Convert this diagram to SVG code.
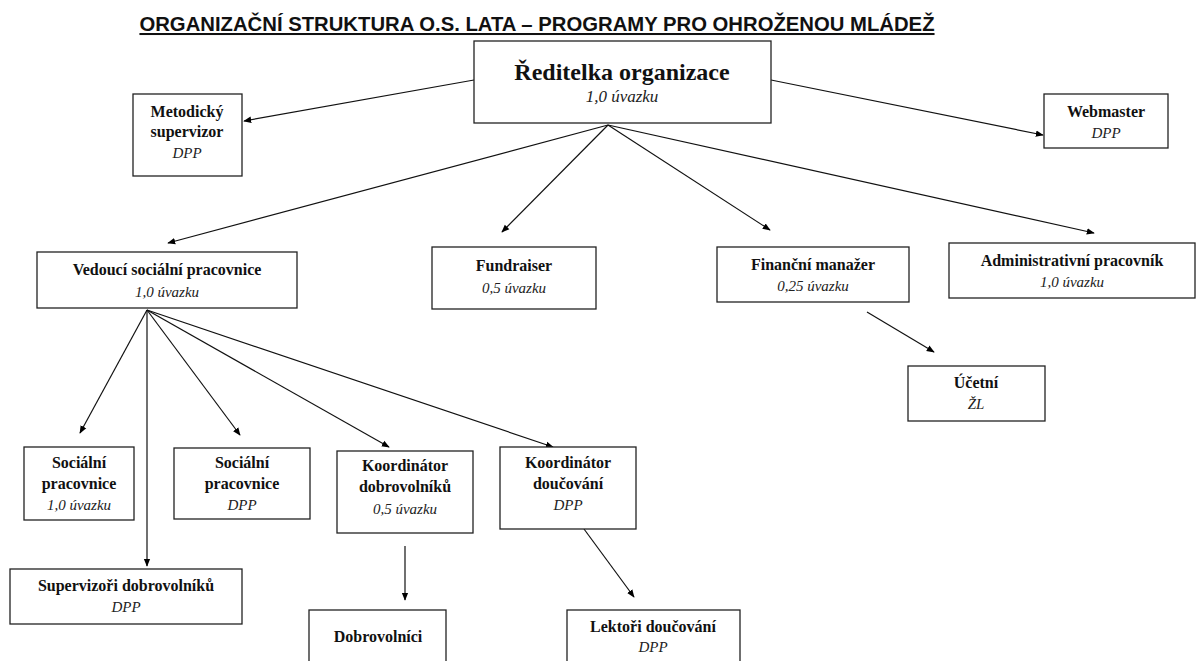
<svg xmlns="http://www.w3.org/2000/svg" width="1199" height="661" viewBox="0 0 1199 661">
<defs>
<marker id="ah" viewBox="0 0 10 10" refX="9" refY="5" markerWidth="8" markerHeight="8" orient="auto" markerUnits="userSpaceOnUse">
<path d="M0,1 L10,5 L0,9 z" fill="#000"/>
</marker>
<style>
.box{fill:#fff;stroke:#222;stroke-width:1.3}
.t{font-family:"Liberation Serif",serif;font-size:16px;font-weight:bold;text-anchor:middle;fill:#111}
.i{font-family:"Liberation Serif",serif;font-size:15px;font-style:italic;text-anchor:middle;fill:#222}
.big{font-size:24px}
.bi{font-size:17px}
.c{stroke:#111;stroke-width:1.2;fill:none;marker-end:url(#ah)}
</style>
</defs>
<rect width="1199" height="661" fill="#fff"/>
<text x="537" y="31" font-family="Liberation Sans, Arial, sans-serif" font-size="20.3" font-weight="bold" text-anchor="middle" text-decoration="underline" fill="#111">ORGANIZAČNÍ STRUKTURA O.S. LATA – PROGRAMY PRO OHROŽENOU MLÁDEŽ</text>

<g id="connectors">
<line class="c" x1="474" y1="80" x2="244" y2="121"/>
<line class="c" x1="771" y1="80" x2="1043" y2="135"/>
<line class="c" x1="608" y1="125" x2="168" y2="243"/>
<line class="c" x1="608" y1="125" x2="502" y2="232"/>
<line class="c" x1="608" y1="125" x2="770" y2="230"/>
<line class="c" x1="608" y1="125" x2="1094" y2="233"/>
<line class="c" x1="147" y1="310" x2="80" y2="433"/>
<line class="c" x1="147" y1="310" x2="147" y2="566"/>
<line class="c" x1="147" y1="310" x2="240" y2="435"/>
<line class="c" x1="147" y1="310" x2="389" y2="447"/>
<line class="c" x1="147" y1="310" x2="553" y2="447"/>
<line class="c" x1="867" y1="312" x2="934" y2="352"/>
<line class="c" x1="405" y1="546" x2="405" y2="600"/>
<line class="c" x1="584" y1="529" x2="634" y2="597"/>
</g>

<g id="director">
<rect class="box" x="474" y="41" width="297" height="82"/>
<text class="t big" x="622" y="80">Ředitelka organizace</text>
<text class="i bi" x="622" y="102">1,0 úvazku</text>
</g>
<g id="metodicky">
<rect class="box" x="133" y="94" width="109" height="82"/>
<text class="t" x="187" y="117">Metodický</text>
<text class="t" x="187" y="137">supervizor</text>
<text class="i" x="187" y="158">DPP</text>
</g>
<g id="webmaster">
<rect class="box" x="1044" y="94" width="124" height="54"/>
<text class="t" x="1106" y="117">Webmaster</text>
<text class="i" x="1106" y="138">DPP</text>
</g>
<g id="vedouci">
<rect class="box" x="37" y="252" width="260" height="56"/>
<text class="t" x="167" y="275">Vedoucí sociální pracovnice</text>
<text class="i" x="167" y="297">1,0  úvazku</text>
</g>
<g id="fundraiser">
<rect class="box" x="432" y="247" width="164" height="62"/>
<text class="t" x="514" y="271">Fundraiser</text>
<text class="i" x="514" y="293">0,5 úvazku</text>
</g>
<g id="financni">
<rect class="box" x="717" y="247" width="192" height="55"/>
<text class="t" x="813" y="270">Finanční manažer</text>
<text class="i" x="813" y="291">0,25 úvazku</text>
</g>
<g id="administrativni">
<rect class="box" x="949" y="243" width="246" height="55"/>
<text class="t" x="1072" y="266">Administrativní pracovník</text>
<text class="i" x="1072" y="287">1,0  úvazku</text>
</g>
<g id="ucetni">
<rect class="box" x="908" y="366" width="137" height="55"/>
<text class="t" x="976" y="388">Účetní</text>
<text class="i" x="976" y="409">ŽL</text>
</g>
<g id="socialni1">
<rect class="box" x="24" y="447" width="110" height="73"/>
<text class="t" x="79" y="468">Sociální</text>
<text class="t" x="79" y="489">pracovnice</text>
<text class="i" x="79" y="510">1,0 úvazku</text>
</g>
<g id="socialni2">
<rect class="box" x="174" y="448" width="136" height="71"/>
<text class="t" x="242" y="468">Sociální</text>
<text class="t" x="242" y="489">pracovnice</text>
<text class="i" x="242" y="510">DPP</text>
</g>
<g id="koord-dobr">
<rect class="box" x="337" y="451" width="136" height="82"/>
<text class="t" x="405" y="471">Koordinátor</text>
<text class="t" x="405" y="492">dobrovolníků</text>
<text class="i" x="405" y="514">0,5 úvazku</text>
</g>
<g id="koord-douc">
<rect class="box" x="500" y="447" width="136" height="82"/>
<text class="t" x="568" y="468">Koordinátor</text>
<text class="t" x="568" y="489">doučování</text>
<text class="i" x="568" y="510">DPP</text>
</g>
<g id="supervizori">
<rect class="box" x="10" y="569" width="232" height="55"/>
<text class="t" x="126" y="591">Supervizoři dobrovolníků</text>
<text class="i" x="126" y="612">DPP</text>
</g>
<g id="dobrovolnici">
<rect class="box" x="309" y="610" width="137" height="60"/>
<text class="t" x="378" y="642">Dobrovolníci</text>
</g>
<g id="lektori">
<rect class="box" x="567" y="610" width="173" height="60"/>
<text class="t" x="653" y="632">Lektoři doučování</text>
<text class="i" x="653" y="652">DPP</text>
</g>
</svg>
